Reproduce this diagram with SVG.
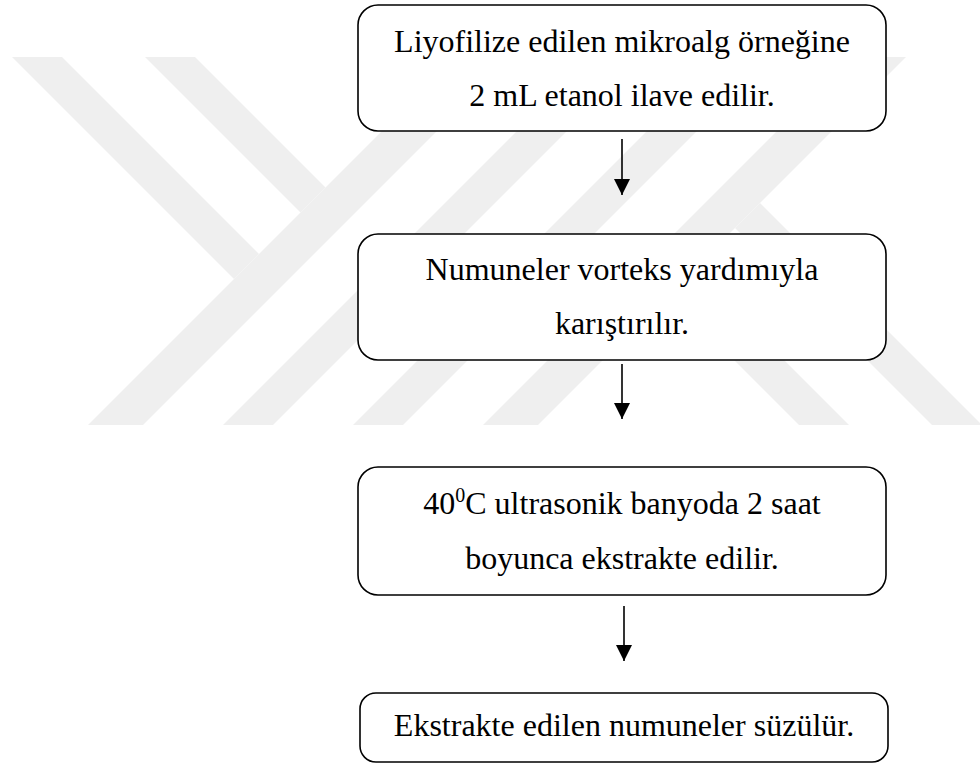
<svg xmlns="http://www.w3.org/2000/svg" width="980" height="773" viewBox="0 0 980 773">
  <defs>
    <style>
      .wm { fill: #efefef; stroke: none; }
      .box { fill: #ffffff; stroke: #000000; stroke-width: 1.6; }
      .lbl { font-family: "Liberation Serif", "Times New Roman", serif; font-size: 32px; fill: #000000; text-anchor: middle; }
      .sup { font-size: 20px; }
      .conn { stroke: #000000; stroke-width: 1.6; fill: none; }
    </style>
    <marker id="arrow" markerWidth="16" markerHeight="16" refX="16" refY="8" orient="auto" markerUnits="userSpaceOnUse">
      <path d="M0,0 L16,8 L0,16 Z" fill="#000000"/>
    </marker>
  </defs>

  <rect x="0" y="0" width="980" height="773" fill="#ffffff"/>

  <g id="watermark">
    <polygon class="wm" points="12,57 62,57 259,254 234,279"/>
    <polygon class="wm" points="145,57 195,57 325.5,187.5 300.5,212.5"/>
    <polygon class="wm" points="88,425 143,425 511,57 456,57"/>
    <polygon class="wm" points="223,425 273,425 641,57 591,57"/>
    <polygon class="wm" points="982,425 932,425 735,228 760,203"/>
    <polygon class="wm" points="849,425 799,425 668.5,294.5 693.5,269.5"/>
    <polygon class="wm" points="906,57 851,57 483,425 538,425"/>
    <polygon class="wm" points="771,57 721,57 353,425 403,425"/>
  </g>

  <g id="connectors">
    <line class="conn" x1="622" y1="139" x2="622" y2="195" marker-end="url(#arrow)"/>
    <line class="conn" x1="622" y1="364" x2="622" y2="419" marker-end="url(#arrow)"/>
    <line class="conn" x1="624" y1="606" x2="624" y2="661" marker-end="url(#arrow)"/>
  </g>

  <g id="node1">
    <rect class="box" x="358" y="5" width="528" height="126" rx="20" ry="20"/>
    <text class="lbl" x="622" y="52">Liyofilize edilen mikroalg örneğine</text>
    <text class="lbl" x="622" y="106">2 mL etanol ilave edilir.</text>
  </g>

  <g id="node2">
    <rect class="box" x="358" y="234" width="528" height="126" rx="20" ry="20"/>
    <text class="lbl" x="622" y="280">Numuneler vorteks yardımıyla</text>
    <text class="lbl" x="622" y="334">karıştırılır.</text>
  </g>

  <g id="node3">
    <rect class="box" x="358" y="467" width="528" height="128" rx="20" ry="20"/>
    <text class="lbl" x="622" y="514">40<tspan class="sup" dy="-12">0</tspan><tspan dy="12">C ultrasonik banyoda 2 saat</tspan></text>
    <text class="lbl" x="622" y="569">boyunca ekstrakte edilir.</text>
  </g>

  <g id="node4">
    <rect class="box" x="360" y="693" width="528" height="69" rx="16" ry="16"/>
    <text class="lbl" x="624" y="736">Ekstrakte edilen numuneler süzülür.</text>
  </g>
</svg>
